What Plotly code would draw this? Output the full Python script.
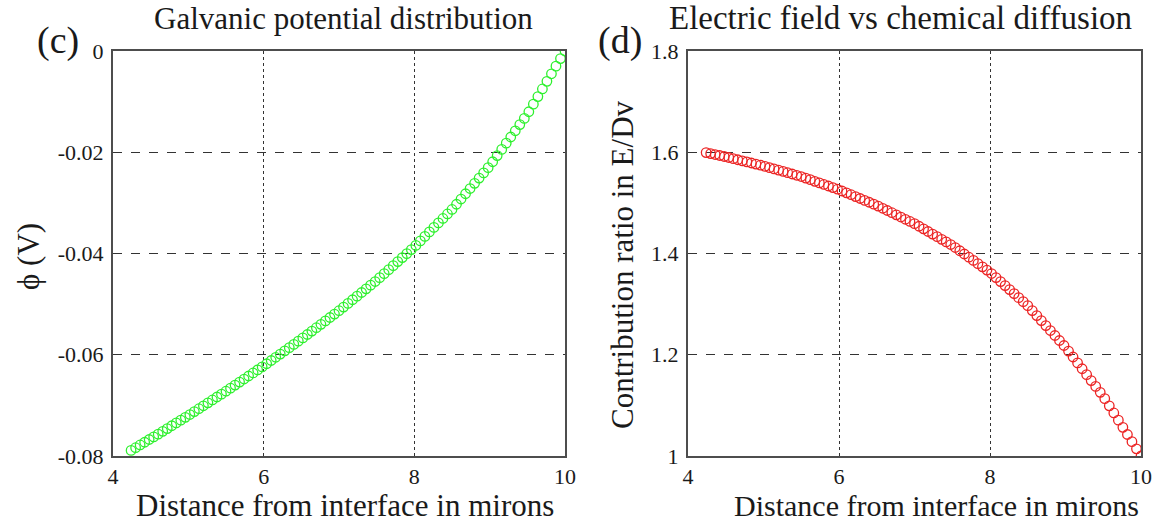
import plotly.graph_objects as go

W, H = 1159, 527

# ---------------- data ----------------
distance_um = [
    4.24, 4.30, 4.36, 4.42, 4.48, 4.54, 4.60, 4.66, 4.72, 4.78, 4.84, 4.90, 4.96,
    5.02, 5.08, 5.14, 5.20, 5.26, 5.32, 5.38, 5.44, 5.50, 5.56, 5.62, 5.68, 5.74,
    5.80, 5.86, 5.92, 5.98, 6.04, 6.10, 6.16, 6.22, 6.28, 6.34, 6.40, 6.46, 6.52,
    6.58, 6.64, 6.70, 6.76, 6.82, 6.88, 6.94, 7.00, 7.06, 7.12, 7.18, 7.24, 7.30,
    7.36, 7.42, 7.48, 7.54, 7.60, 7.66, 7.72, 7.78, 7.84, 7.90, 7.96, 8.02, 8.08,
    8.14, 8.20, 8.26, 8.32, 8.38, 8.44, 8.50, 8.56, 8.62, 8.68, 8.74, 8.80, 8.86,
    8.92, 8.98, 9.04, 9.10, 9.16, 9.22, 9.28, 9.34, 9.40, 9.46, 9.52, 9.58, 9.64,
    9.70, 9.76, 9.82, 9.88, 9.94, 10.00,
]

potential_V = [
    -0.0789, -0.07836, -0.07782, -0.07728, -0.07674, -0.07623, -0.07568, -0.07513,
    -0.07458, -0.07402, -0.07347, -0.07292, -0.07237, -0.07181, -0.07123, -0.07066,
    -0.07008, -0.06950, -0.06893, -0.06835, -0.06778, -0.0672, -0.0666, -0.0660,
    -0.0654, -0.0648, -0.0642, -0.0636, -0.0630, -0.0624, -0.06178, -0.06114,
    -0.06050, -0.05987, -0.05923, -0.05860, -0.05796, -0.05732, -0.05668, -0.05600,
    -0.05533, -0.05466, -0.05399, -0.05332, -0.05264, -0.05197, -0.0513, -0.05058,
    -0.04986, -0.04914, -0.04842, -0.04770, -0.04698, -0.04626, -0.04554, -0.04477,
    -0.04398, -0.04319, -0.04240, -0.04160, -0.04081, -0.04002, -0.03923, -0.03840,
    -0.03752, -0.03663, -0.03574, -0.03485, -0.03396, -0.03308, -0.03219, -0.0313,
    -0.03027, -0.02924, -0.02820, -0.02717, -0.02614, -0.02511, -0.02408, -0.02304,
    -0.02188, -0.02066, -0.01944, -0.01821, -0.01699, -0.01576, -0.01454, -0.01332,
    -0.0120, -0.0105, -0.0090, -0.0075, -0.0060, -0.0045, -0.0030, -0.0015, 0.0,
]

contribution_ratio = [
    1.5993, 1.5974, 1.5955, 1.5936, 1.5916, 1.5896, 1.5874, 1.5852, 1.5831, 1.5809,
    1.5788, 1.5766, 1.5744, 1.5722, 1.5696, 1.5671, 1.5646, 1.5621, 1.5596, 1.5570,
    1.5545, 1.5520, 1.5489, 1.5458, 1.5426, 1.5395, 1.5364, 1.5333, 1.5302, 1.5270,
    1.5235, 1.5198, 1.5161, 1.5124, 1.5086, 1.5049, 1.5012, 1.4975, 1.4936, 1.4893,
    1.4849, 1.4806, 1.4763, 1.4720, 1.4676, 1.4633, 1.4590, 1.4538, 1.4487, 1.4435,
    1.4384, 1.4332, 1.4280, 1.4229, 1.4177, 1.4118, 1.4054, 1.3990, 1.3927, 1.3863,
    1.3800, 1.3736, 1.3672, 1.3604, 1.3524, 1.3445, 1.3366, 1.3287, 1.3208, 1.3128,
    1.3049, 1.2970, 1.2872, 1.2773, 1.2675, 1.2576, 1.2478, 1.2380, 1.2281, 1.2183,
    1.2072, 1.1956, 1.1839, 1.1723, 1.1607, 1.1490, 1.1374, 1.1258, 1.1133, 1.0991,
    1.0850, 1.0708, 1.0566, 1.0425, 1.0283, 1.0142, 1.0000,
]

x_tickvals = [4, 6, 8, 10]
x_ticktext = ["4", "6", "8", "10"]
phi_tickvals = [-0.08, -0.06, -0.04, -0.02, 0]
phi_ticktext = ["-0.08", "-0.06", "-0.04", "-0.02", "0"]
ratio_tickvals = [1.0, 1.2, 1.4, 1.6, 1.8]
ratio_ticktext = ["1", "1.2", "1.4", "1.6", "1.8"]

title_c = "Galvanic potential distribution"
title_d = "Electric field vs chemical diffusion"
xlabel = "Distance from interface in mirons"
ylabel_c = "\u03d5 (V)"
ylabel_d = "Contribution ratio in E/Dv"

# ---------------- layout helpers ----------------
def px(x):
    return x / W

def py(y):
    return 1 - y / H

FONT = "Liberation Serif, Times New Roman, serif"
TXT = "#1a1a1a"
AX = "#4d4d4d"
GRID = "#333333"

fig = go.Figure()

fig.add_trace(go.Scatter(
    x=distance_um, y=potential_V, mode="markers", xaxis="x", yaxis="y",
    marker=dict(symbol="circle-open", size=9.5, color="#2ef02e", line=dict(width=1.3)),
    showlegend=False,
))
fig.add_trace(go.Scatter(
    x=distance_um, y=contribution_ratio, mode="markers", xaxis="x2", yaxis="y2",
    marker=dict(symbol="circle-open", size=9.5, color="#ec2424", line=dict(width=1.3)),
    showlegend=False,
))

common_x = dict(
    range=[4, 10], tickvals=x_tickvals, ticktext=x_ticktext,
    showline=True, linecolor=AX, linewidth=2, mirror=True,
    showgrid=True, gridcolor=GRID, gridwidth=1.2, griddash="dot",
    zeroline=False, ticks="", tickfont=dict(family=FONT, size=22, color=TXT),
    ticklabelstandoff=0,
)
common_y = dict(
    showline=True, linecolor=AX, linewidth=2, mirror=True,
    showgrid=True, gridcolor=GRID, gridwidth=1.2, griddash="dash",
    zeroline=False, ticks="", tickfont=dict(family=FONT, size=22, color=TXT),
    ticklabelstandoff=3,
)

y_dom = [py(456), py(51)]

fig.update_layout(
    width=W, height=H,
    margin=dict(l=0, r=0, t=0, b=0, autoexpand=False),
    paper_bgcolor="white", plot_bgcolor="white",
    xaxis=dict(domain=[px(113), px(565)], anchor="y", **common_x),
    yaxis=dict(domain=y_dom, anchor="x", range=[-0.08, 0],
               tickvals=phi_tickvals, ticktext=phi_ticktext, **common_y),
    xaxis2=dict(domain=[px(688), px(1141)], anchor="y2", **common_x),
    yaxis2=dict(domain=y_dom, anchor="x2", range=[1.0, 1.8],
                tickvals=ratio_tickvals, ticktext=ratio_ticktext, **common_y),
)

def text(s, x, y, size, angle=0, xanchor="center"):
    fig.add_annotation(
        text=s, x=px(x), y=py(y), xref="paper", yref="paper",
        showarrow=False, xanchor=xanchor, yanchor="middle", textangle=angle,
        font=dict(family=FONT, size=size, color=TXT),
    )

text(title_c, 343, 18, 31)
text(title_d, 900, 18, 33)
text(xlabel, 345, 505, 31)
text(xlabel, 937, 505, 30)
text(ylabel_c, 28, 257, 31, angle=-90)
text(ylabel_d, 622, 265, 31, angle=-90)
text("(c)", 58, 40, 38)
text("(d)", 620, 40, 38)

fig.write_html(
    "out.html",
    config={"displayModeBar": False},
    post_script="document.body.style.margin='0';document.body.style.overflow='hidden';",
)
